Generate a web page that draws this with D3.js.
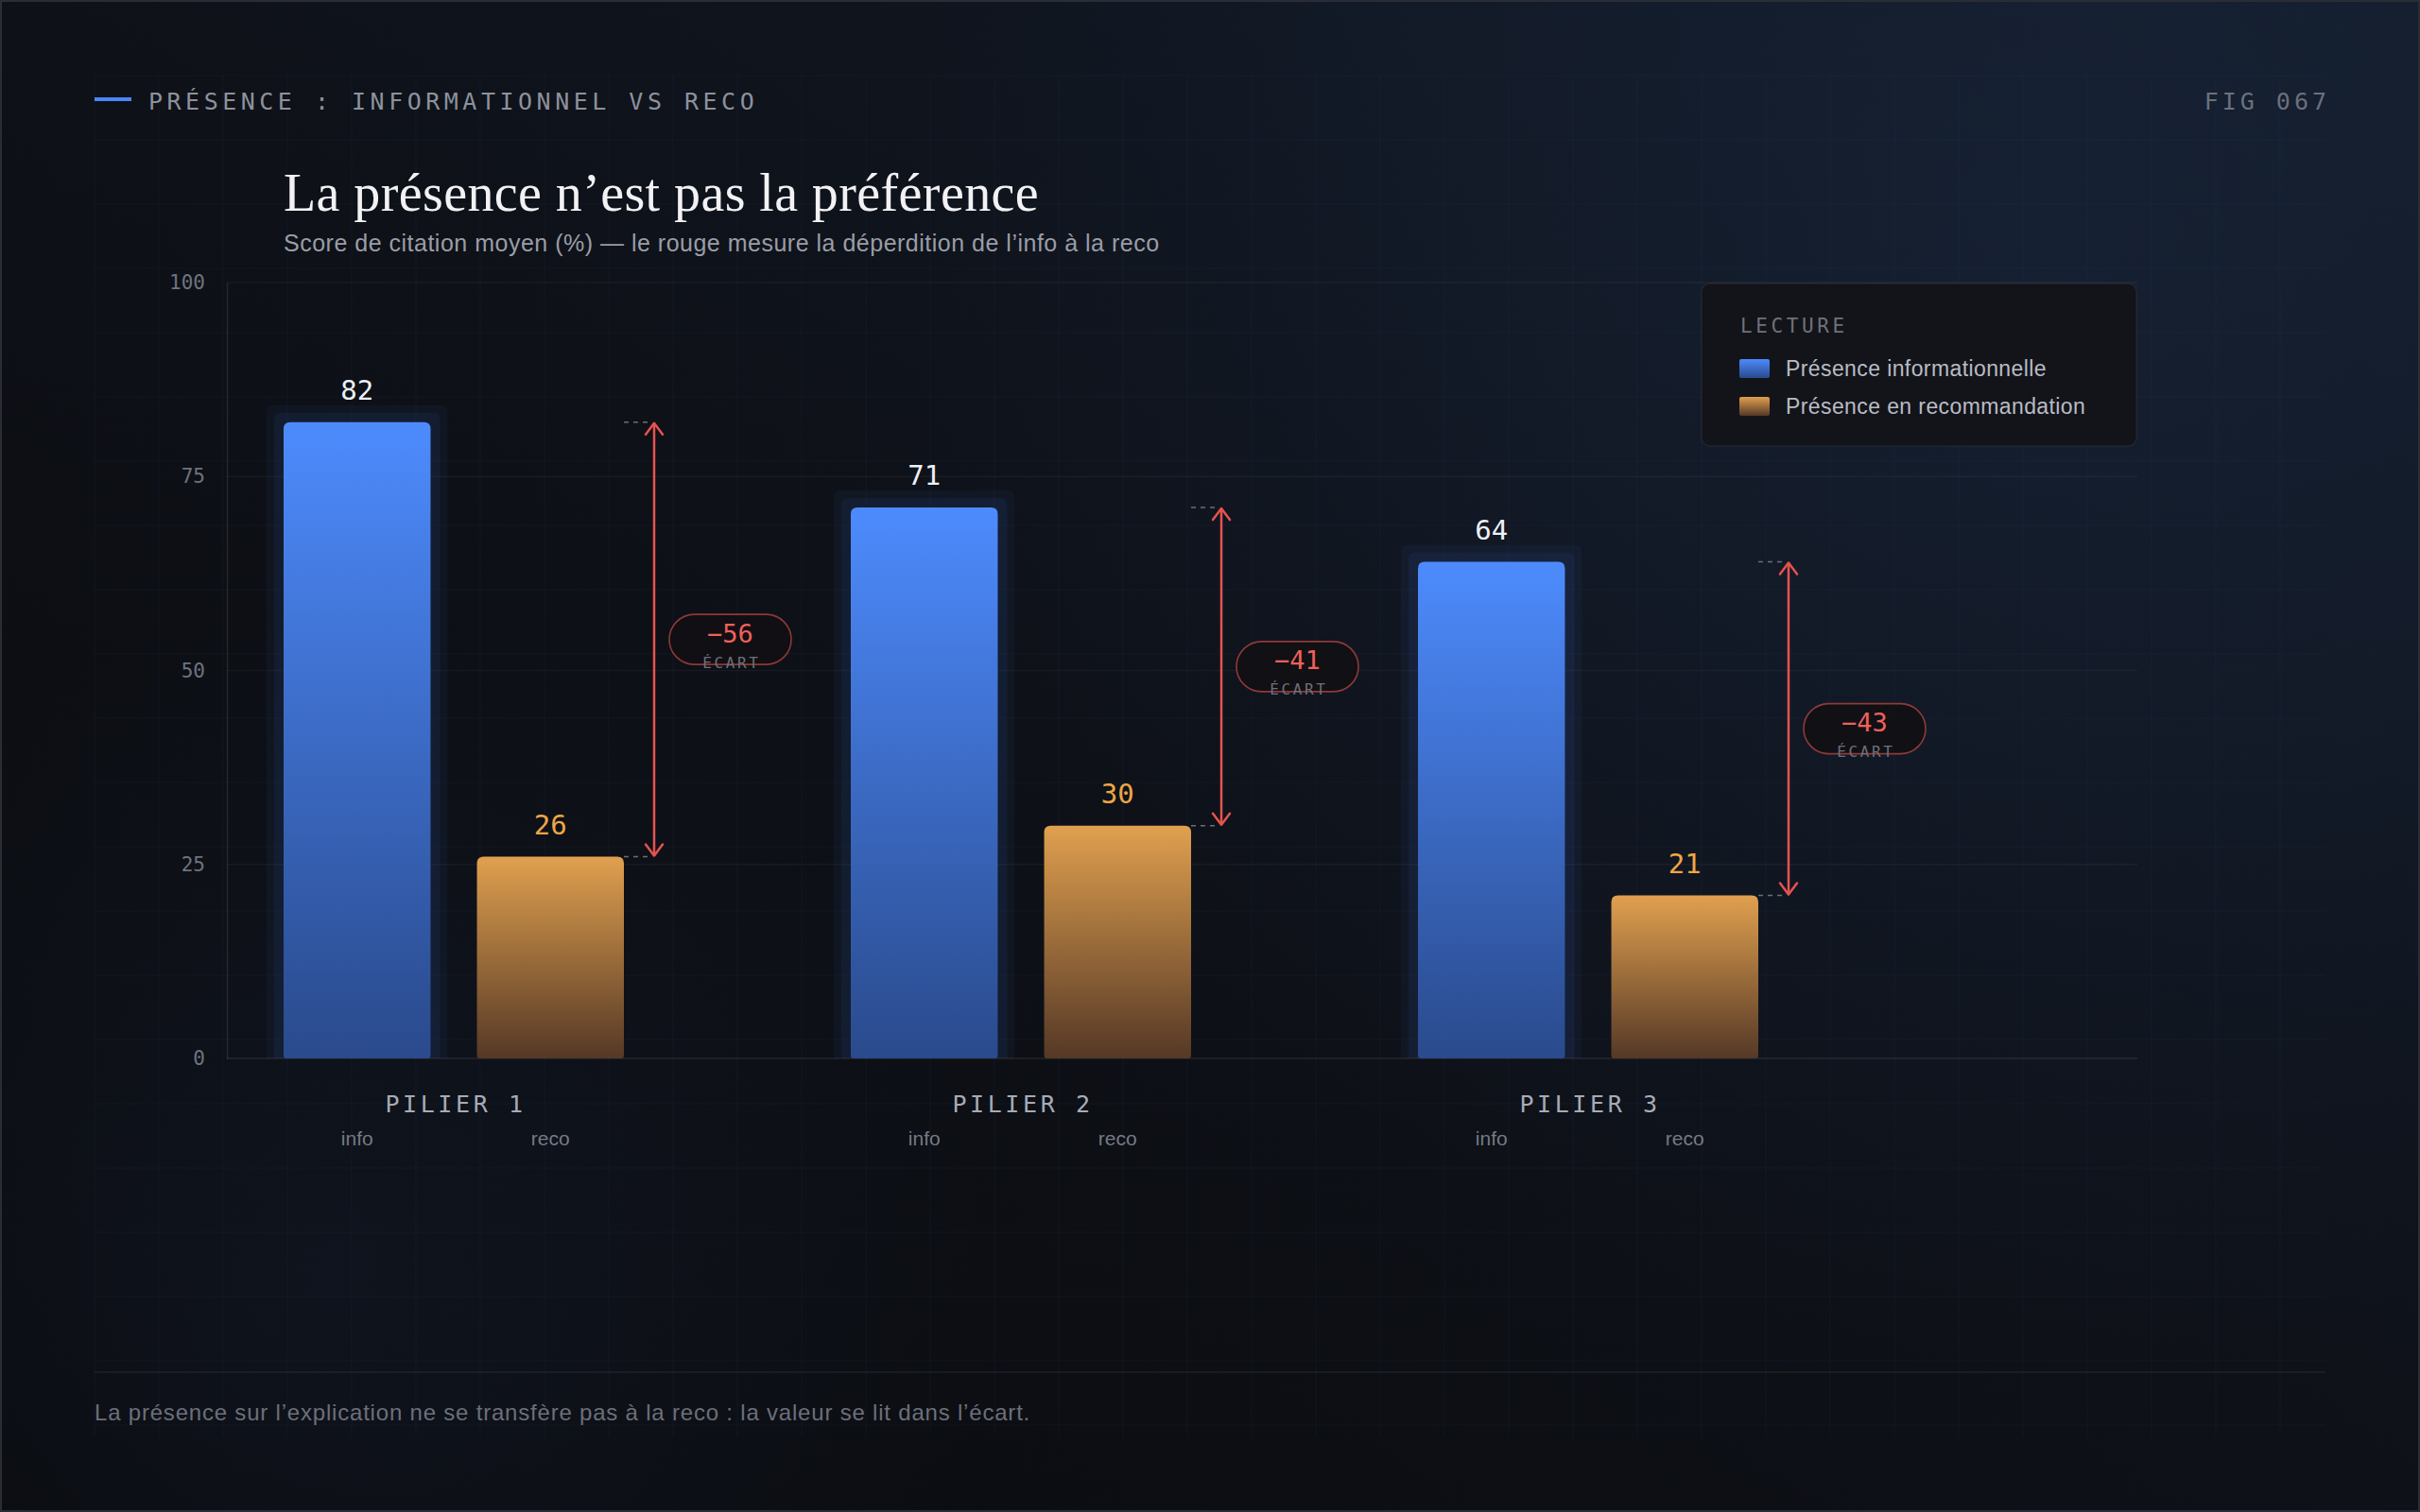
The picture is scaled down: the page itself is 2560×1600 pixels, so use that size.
<!DOCTYPE html>
<html>
<head>
<meta charset="utf-8">
<script src="https://cdn.jsdelivr.net/npm/d3@7"></script>
<style>
  html, body { margin: 0; padding: 0; background: #0b0c10; }
  svg { display: block; }
</style>
</head>
<body>
<script>
// ---------------- DATA ----------------
const piliers = ["PILIER 1", "PILIER 2", "PILIER 3"];
const seriesKeys = ["info", "reco"];
const infoValues = [82, 71, 64];
const recoValues = [26, 30, 21];
const yTicks = [0, 25, 50, 75, 100];
const legendLabels = ["Présence informationnelle", "Présence en recommandation"];
const headerLabel = "PRÉSENCE : INFORMATIONNEL VS RECO";
const figLabel = "FIG 067";
const titleText = "La présence n’est pas la préférence";
const subtitleText = "Score de citation moyen (%) — le rouge mesure la déperdition de l’info à la reco";
const footerText = "La présence sur l’explication ne se transfère pas à la reco : la valeur se lit dans l’écart.";
const gapLabel = "ÉCART";

// ---------------- SETUP ----------------
const W = 2560, H = 1600;
const MONO = "'DejaVu Sans Mono', 'Liberation Mono', monospace";
const SANS = "'Liberation Sans', Arial, sans-serif";
const SERIF = "'Liberation Serif', 'DejaVu Serif', serif";

const svg = d3.select("body").append("svg").attr("width", W).attr("height", H);
const defs = svg.append("defs");

const bgLin = defs.append("linearGradient").attr("id", "bgLin")
  .attr("x1", "1").attr("y1", "0").attr("x2", "0").attr("y2", "1");
bgLin.append("stop").attr("offset", "0").attr("stop-color", "#121a27");
bgLin.append("stop").attr("offset", "0.5").attr("stop-color", "#0e1118");
bgLin.append("stop").attr("offset", "1").attr("stop-color", "#0a0b0e");

const glow1 = defs.append("radialGradient").attr("id", "glow1")
  .attr("gradientUnits", "userSpaceOnUse").attr("cx", 2150).attr("cy", 250).attr("r", 1200);
glow1.append("stop").attr("offset", "0").attr("stop-color", "#26406b").attr("stop-opacity", 0.22);
glow1.append("stop").attr("offset", "1").attr("stop-color", "#26406b").attr("stop-opacity", 0);

const glow2 = defs.append("radialGradient").attr("id", "glow2")
  .attr("gradientUnits", "userSpaceOnUse").attr("cx", 350).attr("cy", 1350).attr("r", 700);
glow2.append("stop").attr("offset", "0").attr("stop-color", "#1c2b48").attr("stop-opacity", 0.22);
glow2.append("stop").attr("offset", "1").attr("stop-color", "#1c2b48").attr("stop-opacity", 0);

function vGrad(id, top, bottom) {
  const g = defs.append("linearGradient").attr("id", id)
    .attr("x1", 0).attr("y1", 0).attr("x2", 0).attr("y2", 1);
  g.append("stop").attr("offset", "0").attr("stop-color", top);
  g.append("stop").attr("offset", "1").attr("stop-color", bottom);
}
vGrad("gradInfo", "#4d8bfd", "#2a4a8c");
vGrad("gradReco", "#e0a04f", "#553826");

svg.append("rect").attr("width", W).attr("height", H).attr("fill", "url(#bgLin)");
svg.append("rect").attr("width", W).attr("height", H).attr("fill", "url(#glow1)");
svg.append("rect").attr("width", W).attr("height", H).attr("fill", "url(#glow2)");

// background grid
const gridG = svg.append("g").attr("stroke", "#3a5599").attr("stroke-opacity", 0.09).attr("stroke-width", 1.2);
d3.range(100, 2461, 68).forEach(x => gridG.append("line").attr("x1", x).attr("x2", x).attr("y1", 80).attr("y2", 1520));
d3.range(80, 1521, 68).forEach(y => gridG.append("line").attr("x1", 100).attr("x2", 2460).attr("y1", y).attr("y2", y));

// ---------------- HEADER ----------------
svg.append("line").attr("x1", 100).attr("x2", 139).attr("y1", 105).attr("y2", 105)
  .attr("stroke", "#4a86f7").attr("stroke-width", 4);
svg.append("text").attr("x", 157).attr("y", 116).text(headerLabel)
  .attr("font-family", MONO).attr("font-size", 25).attr("letter-spacing", 4.5).attr("fill", "#8d919c");
svg.append("text").attr("x", 2465).attr("y", 116).attr("text-anchor", "end").text(figLabel)
  .attr("font-family", MONO).attr("font-size", 25).attr("letter-spacing", 4).attr("fill", "#6c707b");

svg.append("text").attr("x", 300).attr("y", 223).text(titleText)
  .attr("font-family", SERIF).attr("font-size", 56).attr("letter-spacing", 0.4).attr("fill", "#f2f2f4");
svg.append("text").attr("x", 300).attr("y", 266).text(subtitleText)
  .attr("font-family", SANS).attr("font-size", 25).attr("letter-spacing", 0.5).attr("fill", "#9a9da7");

// ---------------- SCALES ----------------
const y = d3.scaleLinear().domain([0, 100]).range([1120, 299]);
const x0 = d3.scaleBand().domain(piliers).range([240, 1920]).paddingInner(0.4).paddingOuter(0.1);
const x1 = d3.scaleBand().domain(seriesKeys).range([0, x0.bandwidth()]).paddingInner(0.24);
const plotRight = 2261;

// gridlines at ticks
const tickG = svg.append("g");
tickG.selectAll("line").data(yTicks).join("line")
  .attr("x1", 240).attr("x2", plotRight).attr("y1", d => y(d)).attr("y2", d => y(d))
  .attr("stroke", "#ffffff").attr("stroke-opacity", d => d === 0 ? 0.09 : 0.045).attr("stroke-width", 1.5);

// y axis
const yAxis = svg.append("g").attr("transform", "translate(240,0)")
  .call(d3.axisLeft(y).tickValues(yTicks).tickSize(0).tickPadding(23));
yAxis.select(".domain").attr("stroke", "#ffffff").attr("stroke-opacity", 0.1).attr("stroke-width", 1.5);
yAxis.selectAll("text").attr("font-family", MONO).attr("font-size", 21).attr("fill", "#6f737e");

// ---------------- BARS ----------------
const data = piliers.map((p, i) => ({ p, info: infoValues[i], reco: recoValues[i] }));

function topRounded(x, yTop, w, h, r, rb) {
  r = Math.min(r, h / 2);
  return `M${x},${yTop + h - rb} L${x},${yTop + r} Q${x},${yTop} ${x + r},${yTop} L${x + w - r},${yTop} Q${x + w},${yTop} ${x + w},${yTop + r} L${x + w},${yTop + h - rb} Q${x + w},${yTop + h} ${x + w - rb},${yTop + h} L${x + rb},${yTop + h} Q${x},${yTop + h} ${x},${yTop + h - rb} Z`;
}

const groups = svg.append("g").selectAll("g.grp").data(data).join("g")
  .attr("class", "grp").attr("transform", d => `translate(${x0(d.p)},0)`);

// halo behind info bars
[18, 10].forEach((pad, k) => {
  groups.append("path")
    .attr("d", d => topRounded(x1("info") - pad, y(d.info) - pad, x1.bandwidth() + 2 * pad, y(0) - y(d.info) + pad, 8, 0))
    .attr("fill", "#3f74e0").attr("fill-opacity", k === 0 ? 0.06 : 0.08);
});

groups.append("path")
  .attr("d", d => topRounded(x1("info"), y(d.info), x1.bandwidth(), y(0) - y(d.info), 7, 3))
  .attr("fill", "url(#gradInfo)");
groups.append("path")
  .attr("d", d => topRounded(x1("reco"), y(d.reco), x1.bandwidth(), y(0) - y(d.reco), 7, 3))
  .attr("fill", "url(#gradReco)");

// value labels
groups.append("text").attr("x", x1("info") + x1.bandwidth() / 2).attr("y", d => y(d.info) - 24)
  .attr("text-anchor", "middle").text(d => d.info)
  .attr("font-family", MONO).attr("font-size", 29).attr("fill", "#eef0f5");
groups.append("text").attr("x", x1("reco") + x1.bandwidth() / 2).attr("y", d => y(d.reco) - 24)
  .attr("text-anchor", "middle").text(d => d.reco)
  .attr("font-family", MONO).attr("font-size", 29).attr("fill", "#f0a645");

// x labels
groups.append("text").attr("x", x0.bandwidth() / 2 + 2).attr("y", 1177)
  .attr("text-anchor", "middle").text(d => d.p)
  .attr("font-family", MONO).attr("font-size", 25).attr("letter-spacing", 3.6).attr("fill", "#a7abb5");
seriesKeys.forEach(k => {
  groups.append("text").attr("x", x1(k) + x1.bandwidth() / 2).attr("y", 1212)
    .attr("text-anchor", "middle").text(k)
    .attr("font-family", SANS).attr("font-size", 21).attr("fill", "#767a85");
});

// ---------------- GAP ARROWS ----------------
const RED = "#e5534f";
const arrowX = x1("reco") + x1.bandwidth() + 32;
// dashed connectors
groups.append("line").attr("x1", x1("reco") + x1.bandwidth()).attr("x2", arrowX - 6)
  .attr("y1", d => y(d.info)).attr("y2", d => y(d.info))
  .attr("stroke", "#6a6e78").attr("stroke-width", 1.5).attr("stroke-dasharray", "5,5");
groups.append("line").attr("x1", x1("reco") + x1.bandwidth()).attr("x2", arrowX - 6)
  .attr("y1", d => y(d.reco)).attr("y2", d => y(d.reco))
  .attr("stroke", "#6a6e78").attr("stroke-width", 1.5).attr("stroke-dasharray", "5,5");
// vertical line
groups.append("line").attr("x1", arrowX).attr("x2", arrowX)
  .attr("y1", d => y(d.info) + 1).attr("y2", d => y(d.reco) - 1)
  .attr("stroke", RED).attr("stroke-width", 2.5);
// chevrons
groups.append("path")
  .attr("d", d => `M${arrowX - 9},${y(d.info) + 13} L${arrowX},${y(d.info) + 1} L${arrowX + 9},${y(d.info) + 13}`)
  .attr("fill", "none").attr("stroke", RED).attr("stroke-width", 2.5).attr("stroke-linecap", "round").attr("stroke-linejoin", "round");
groups.append("path")
  .attr("d", d => `M${arrowX - 9},${y(d.reco) - 13} L${arrowX},${y(d.reco) - 1} L${arrowX + 9},${y(d.reco) - 13}`)
  .attr("fill", "none").attr("stroke", RED).attr("stroke-width", 2.5).attr("stroke-linecap", "round").attr("stroke-linejoin", "round");

// badge
const pillW = 129, pillH = 53;
const midY = d => (y(d.info) + y(d.reco)) / 2;
groups.append("rect")
  .attr("x", arrowX + 16).attr("y", d => midY(d) - pillH / 2)
  .attr("width", pillW).attr("height", pillH).attr("rx", pillH / 2)
  .attr("fill", "#120f13").attr("fill-opacity", 0.85)
  .attr("stroke", RED).attr("stroke-opacity", 0.6).attr("stroke-width", 1.6);
groups.append("text").attr("x", arrowX + 16 + pillW / 2).attr("y", d => midY(d) + 3)
  .attr("text-anchor", "middle").text(d => "−" + Math.abs(d.reco - d.info))
  .attr("font-family", MONO).attr("font-size", 27).attr("fill", "#f0605a");
groups.append("text").attr("x", arrowX + 16 + pillW / 2 + 1.3).attr("y", d => midY(d) + 30)
  .attr("text-anchor", "middle").text(gapLabel)
  .attr("font-family", MONO).attr("font-size", 16).attr("letter-spacing", 2.6).attr("fill", "#6c707a");

// ---------------- LEGEND ----------------
const lg = svg.append("g");
lg.append("rect").attr("x", 1800).attr("y", 300).attr("width", 460).attr("height", 172).attr("rx", 9)
  .attr("fill", "#141418").attr("fill-opacity", 0.92)
  .attr("stroke", "#ffffff").attr("stroke-opacity", 0.06).attr("stroke-width", 1.5);
lg.append("text").attr("x", 1841).attr("y", 352).text("LECTURE")
  .attr("font-family", MONO).attr("font-size", 21).attr("letter-spacing", 3.6).attr("fill", "#6e717b");
const legendFills = ["url(#gradInfo)", "url(#gradReco)"];
legendLabels.forEach((lab, i) => {
  lg.append("rect").attr("x", 1840).attr("y", 380 + i * 40).attr("width", 32).attr("height", 20)
    .attr("rx", 2).attr("fill", legendFills[i]);
  lg.append("text").attr("x", 1889).attr("y", 398 + i * 40).text(lab)
    .attr("font-family", SANS).attr("font-size", 23).attr("letter-spacing", 0.4).attr("fill", "#b9bcc5");
});

// ---------------- FOOTER ----------------
svg.append("line").attr("x1", 100).attr("x2", 2460).attr("y1", 1452).attr("y2", 1452)
  .attr("stroke", "#ffffff").attr("stroke-opacity", 0.07).attr("stroke-width", 1.5);
svg.append("text").attr("x", 100).attr("y", 1503).text(footerText)
  .attr("font-family", SANS).attr("font-size", 24).attr("letter-spacing", 0.8).attr("fill", "#6c6f7a");

// outer border
svg.append("rect").attr("x", 1).attr("y", 1).attr("width", W - 2).attr("height", H - 2)
  .attr("fill", "none").attr("stroke", "#2a2d35").attr("stroke-width", 2);
</script>
</body>
</html>
